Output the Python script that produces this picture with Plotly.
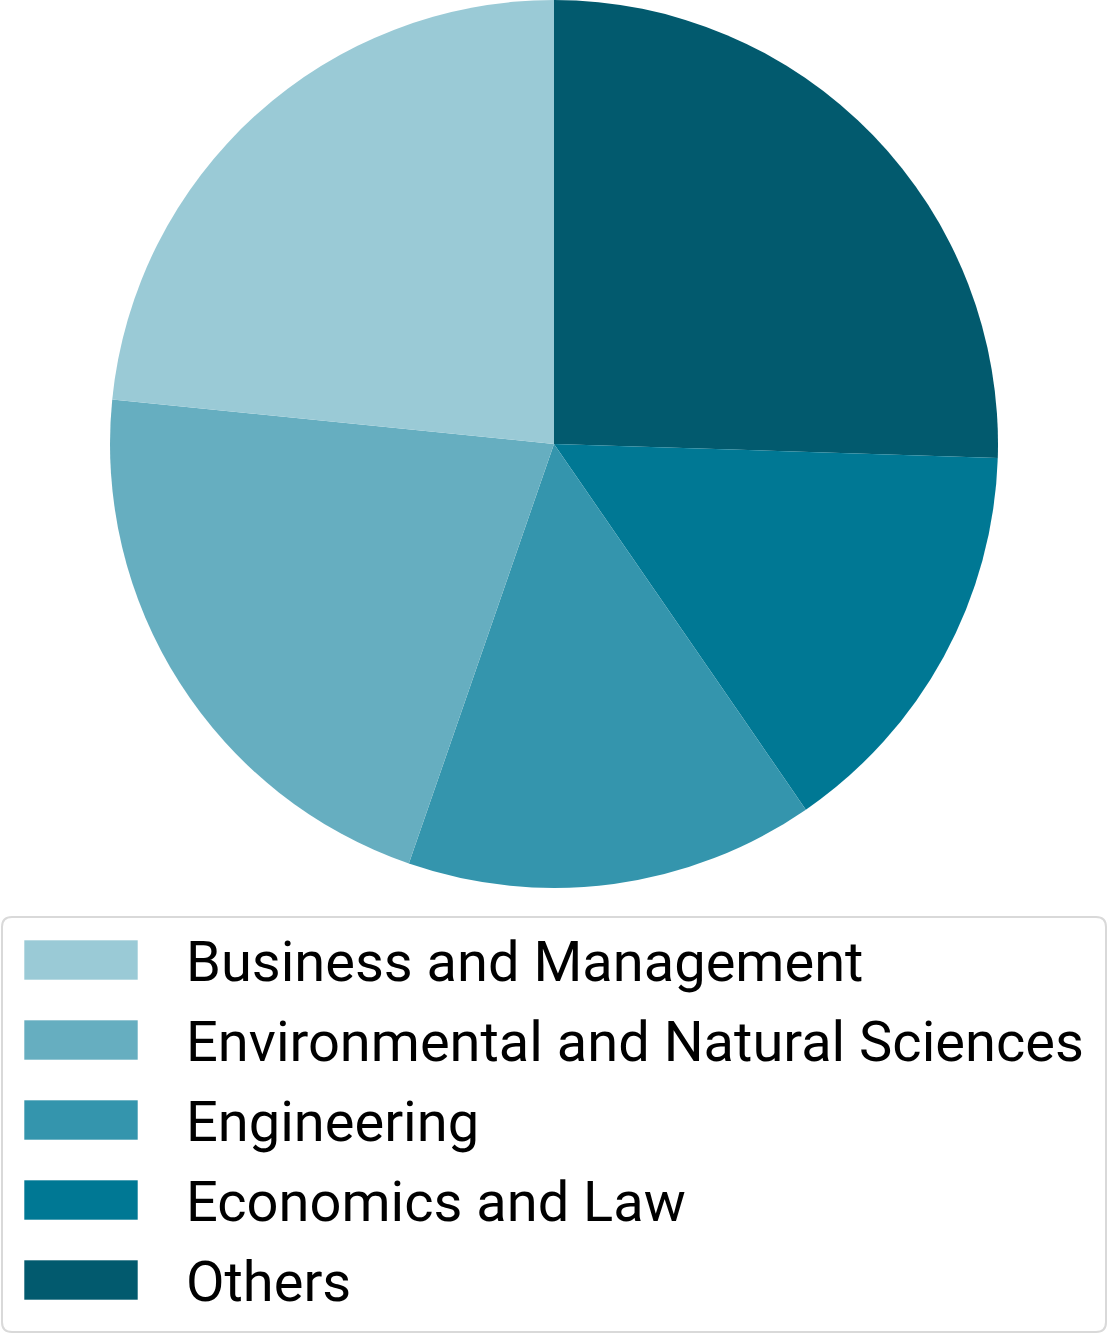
import plotly.graph_objects as go

# share of students by field
labels = ["Business and Management", "Environmental and Natural Sciences",
          "Engineering", "Economics and Law", "Others"]
values = [23.4, 21.3, 14.9, 14.9, 25.5]
colors = ["#9ACAD6", "#66AEC0", "#3495AD", "#007894", "#025A6E"]

W, H = 1108, 1334

# slices run clockwise from 12 o'clock starting with "Others",
# so feed the trace in reverse order
fig = go.Figure(go.Pie(
    labels=labels[::-1],
    values=values[::-1],
    sort=False,
    direction="clockwise",
    rotation=0,
    marker=dict(colors=colors[::-1], line=dict(width=0)),
    textinfo="none",
    hoverinfo="label+percent",
    domain=dict(x=[0, 1], y=[1 - 888 / H, 1]),
    showlegend=False,
))


def px_x(v):
    return v / W


def px_y(v):
    return 1 - v / H


# hand-built legend box (plotly's own legend symbols can't be this big)
x0, x1, y0, y1, r = 2, 1106, 917, 1332, 10
box = (f"M{px_x(x0 + r)},{px_y(y0)} L{px_x(x1 - r)},{px_y(y0)} "
       f"Q{px_x(x1)},{px_y(y0)} {px_x(x1)},{px_y(y0 + r)} "
       f"L{px_x(x1)},{px_y(y1 - r)} Q{px_x(x1)},{px_y(y1)} {px_x(x1 - r)},{px_y(y1)} "
       f"L{px_x(x0 + r)},{px_y(y1)} Q{px_x(x0)},{px_y(y1)} {px_x(x0)},{px_y(y1 - r)} "
       f"L{px_x(x0)},{px_y(y0 + r)} Q{px_x(x0)},{px_y(y0)} {px_x(x0 + r)},{px_y(y0)} Z")
fig.add_shape(type="path", path=box, xref="paper", yref="paper",
              line=dict(color="#D9D9D9", width=2), fillcolor="white")

for i, (lab, col) in enumerate(zip(labels, colors)):
    yc = 960 + 80 * i
    fig.add_shape(type="rect", xref="paper", yref="paper",
                  x0=px_x(24), x1=px_x(138), y0=px_y(yc - 20), y1=px_y(yc + 20),
                  fillcolor=col, line=dict(color="rgba(255,255,255,0.6)", width=1))
    fig.add_annotation(text=lab, xref="paper", yref="paper",
                       x=px_x(184), y=px_y(yc + 2), xanchor="left", yanchor="middle",
                       showarrow=False, font=dict(size=56, color="black"))

fig.update_layout(
    width=W, height=H,
    margin=dict(l=0, r=0, t=0, b=0),
    paper_bgcolor="white",
    plot_bgcolor="white",
    font=dict(family="Roboto, sans-serif"),
)

# drop the default 8px page margin so the figure sits at the top-left corner
fig.write_html("out.html", config={"displayModeBar": False},
               post_script="document.body.style.margin='0';")
